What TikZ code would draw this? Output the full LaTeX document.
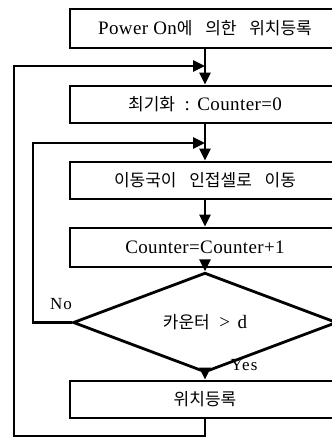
\documentclass[tikz,border=0pt]{standalone}
\usepackage{fontspec}
\setmainfont{Liberation Serif}[LetterSpace=2]
\newfontfamily\krfont{Noto Sans CJK KR}
\usetikzlibrary{arrows.meta,shapes.geometric}
\newcommand\K[1]{{\krfont\fontsize{17}{19}\selectfont #1}}
\newcommand\KS{\hspace{0.75em}}
\tikzset{
  pbox/.style={draw, line width=2.8pt, minimum width=270pt, inner sep=0pt,
    font=\fontsize{19}{21}\selectfont},
  dec/.style={draw, diamond, line width=2.8pt, minimum width=264pt, minimum height=59pt,
    inner sep=0pt, font=\fontsize{19}{21}\selectfont},
  arr/.style={line width=2.8pt, -{Triangle[length=12pt,width=11pt]}},
  lab/.style={font=\fontsize{17}{18}\selectfont\addfontfeature{LetterSpace=6}, inner sep=0pt}
}
\begin{document}
\begin{tikzpicture}[x=1pt,y=-1pt]
\clip (0,0) rectangle (332,437);
\fill[white] (0,0) rectangle (332,437);
\node[pbox, minimum height=39pt] (b1) at (205,28.5) {Power On\K{에\KS 의한\KS 위치등록}};
\node[pbox, minimum height=37pt] (b2) at (205,104.5) {\K{최기화}\hspace{0.5em}:\hspace{0.4em}Counter=0};
\node[pbox, minimum height=37pt] (b3) at (205,180.5) {\K{이동국이\KS 인접셀로\KS 이동}};
\node[pbox, minimum height=39pt] (b4) at (205,247.5) {Counter=Counter+1};
\node[dec] (d) at (205,322.5) {\K{카운터}\hspace{0.5em}>\hspace{0.4em}d};
\node[pbox, minimum height=37pt] (b5) at (205,399.5) {\K{위치등록}};
\node[lab] (no) at (61,304) {No};
\node[lab] (yes) at (244,365) {Yes};
\coordinate (j1) at (205,66);
\coordinate (j2) at (205,143);
\coordinate (ob) at (14,436);
\coordinate (ib) at (33,322.5);
\draw[arr] (b1.south) -- (b2.north);
\draw[arr] (b2.south) -- (b3.north);
\draw[arr] (b3.south) -- (b4.north);
\draw[arr] (b4.south) -- (d.north);
\draw[arr] (d.south) -- (b5.north);
\draw[arr] (b5.south) |- (ob) |- (j1);
\draw[arr] (d.west) -- (ib) |- (j2);
\end{tikzpicture}
\end{document}
